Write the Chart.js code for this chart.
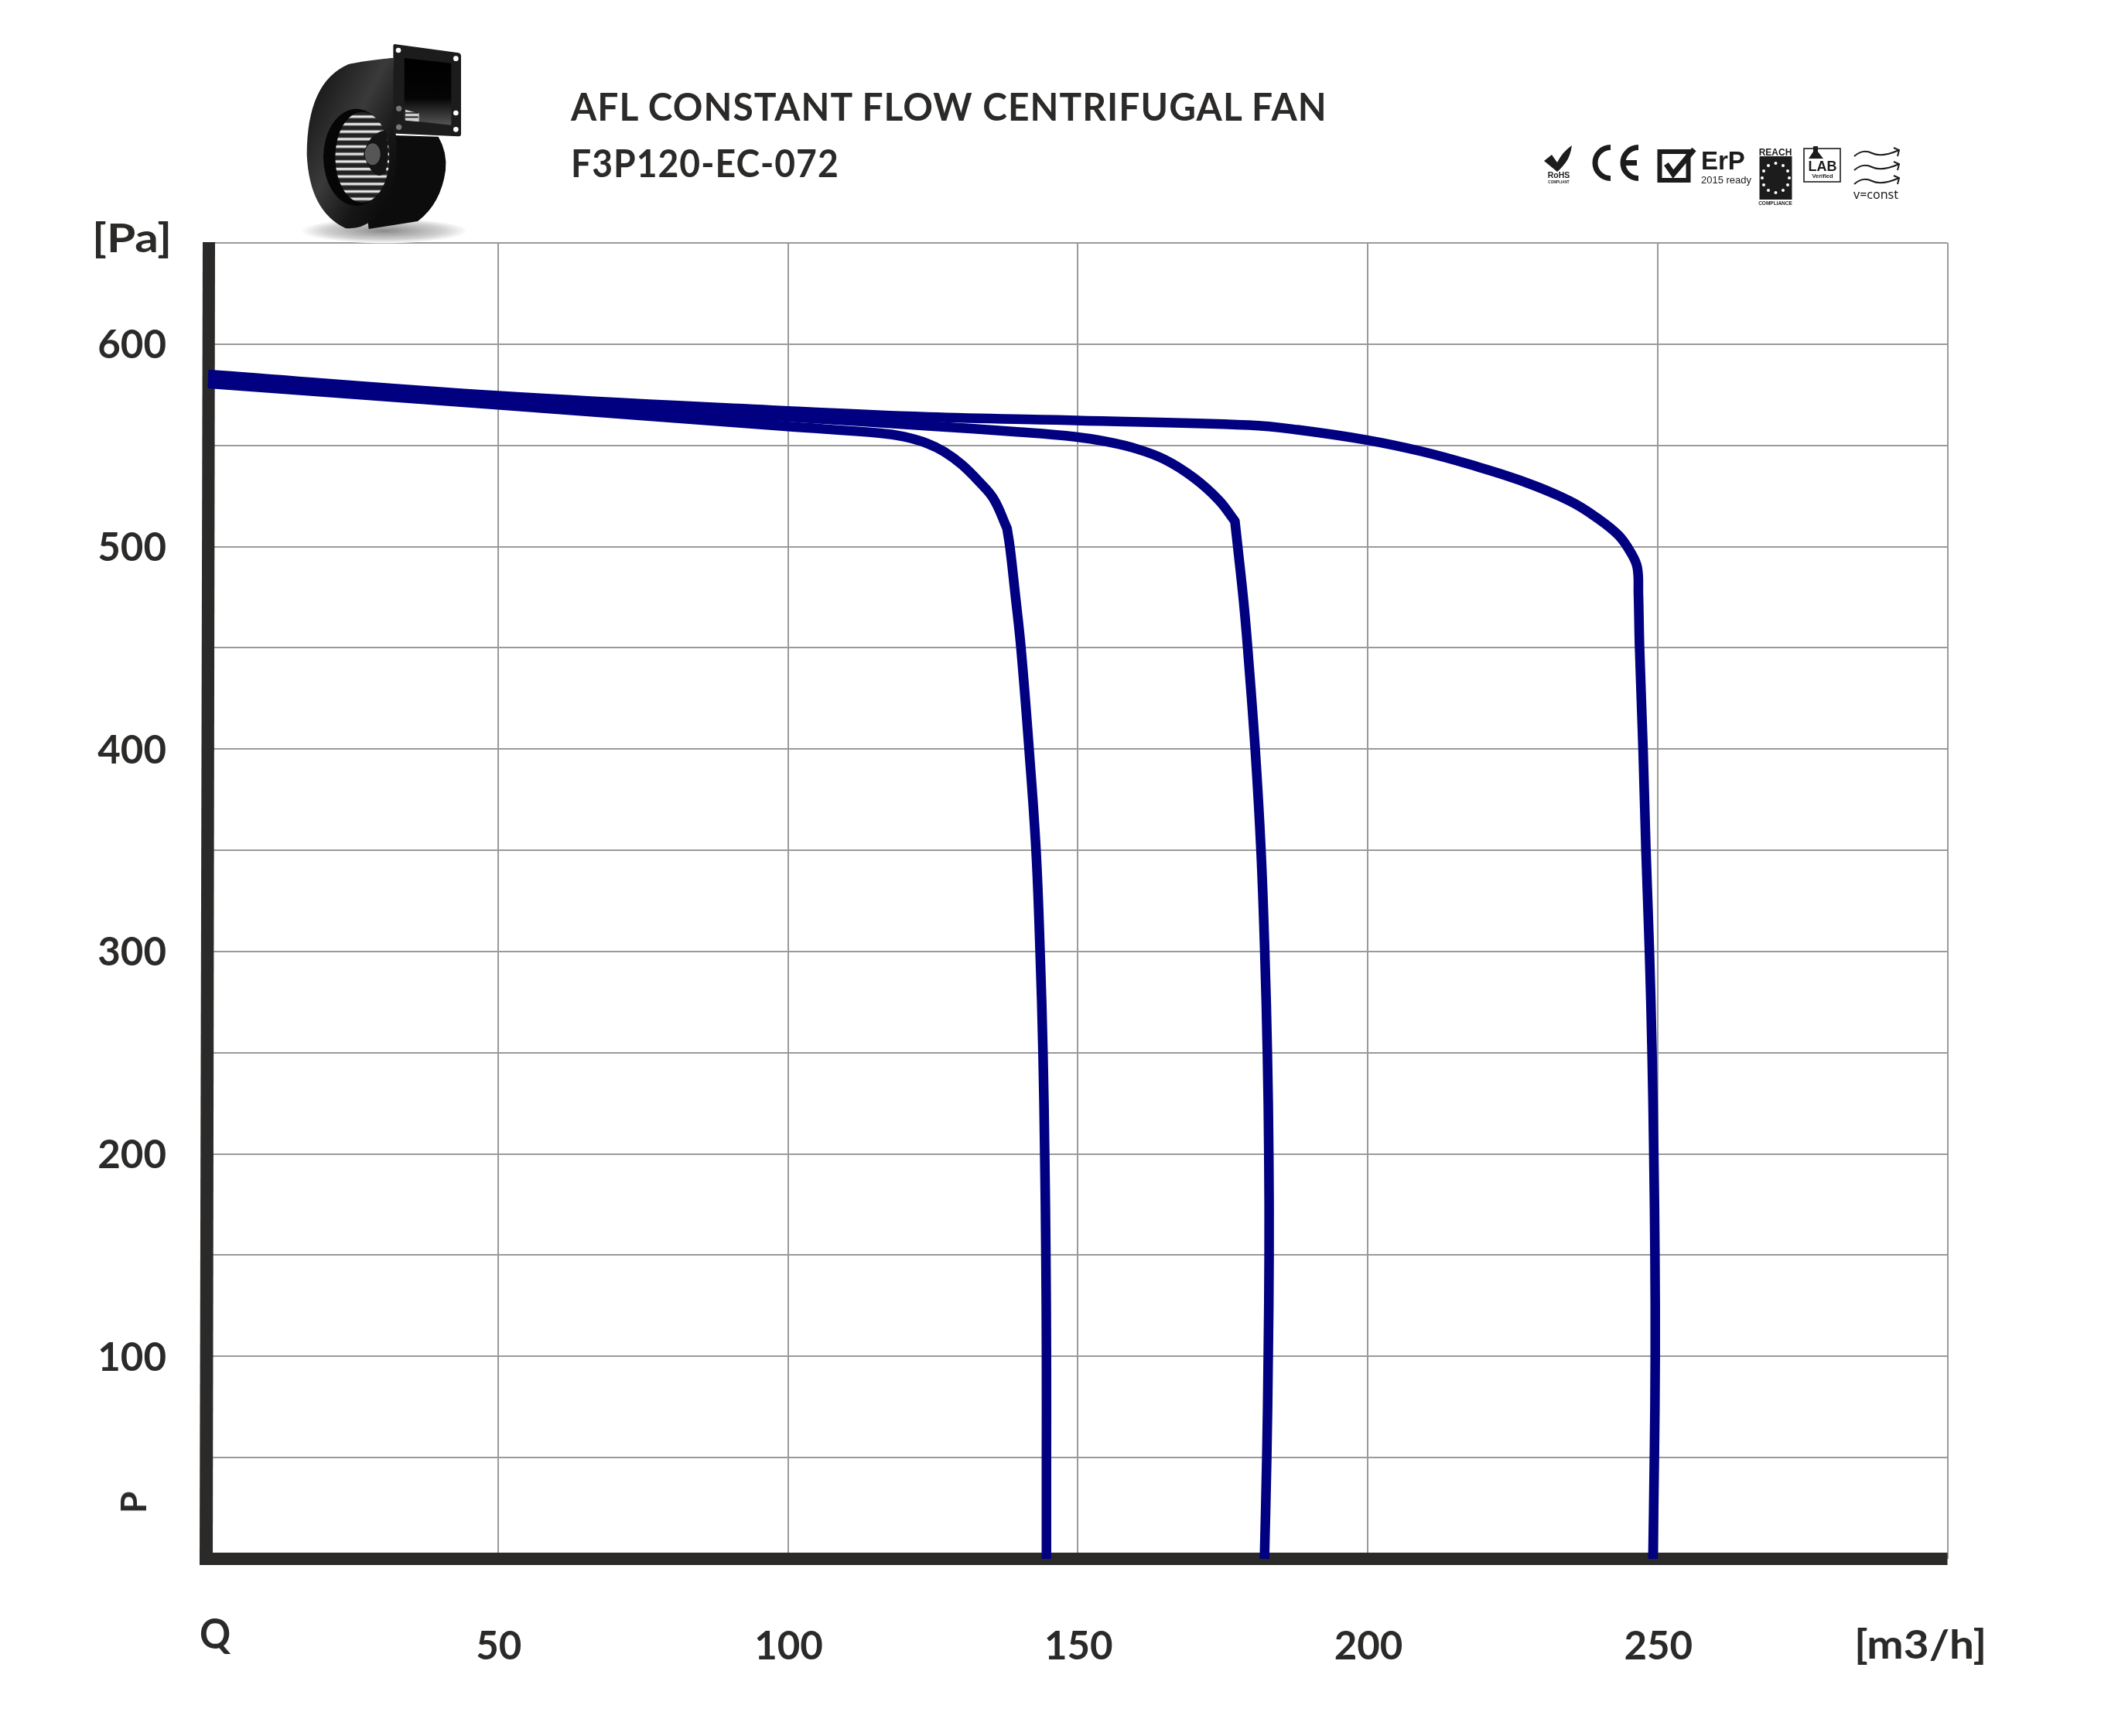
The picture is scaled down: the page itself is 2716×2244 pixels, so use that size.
<!DOCTYPE html>
<html>
<head>
<meta charset="utf-8">
<title>F3P120-EC-072</title>
<script src="https://cdn.jsdelivr.net/npm/chart.js@4/dist/chart.umd.min.js"></script>
<style>
  html, body { margin: 0; padding: 0; background: #fff; }
  #page { position: relative; width: 2716px; height: 2244px; overflow: hidden; font-family: Lato, sans-serif; color: #2b2a29; }
  #page canvas { position: absolute; left: 0; top: 0; }
  .txt { position: absolute; white-space: nowrap; line-height: 1; font-weight: 700; transform-origin: left top; }
  svg { position: absolute; overflow: visible; }
</style>
</head>
<body>
<div id="page">
  <canvas id="fanChart" width="2716" height="2244"></canvas>

  <div class="txt" style="left:738px;top:112px;font-size:50px;letter-spacing:1.1px;transform:scaleX(0.958);">AFL CONSTANT FLOW CENTRIFUGAL FAN</div>
  <div class="txt" style="left:738px;top:185px;font-size:50px;letter-spacing:1.1px;transform:scaleX(0.925);">F3P120-EC-072</div>
  <div class="txt" style="left:119px;top:280px;font-size:52px;transform:scaleX(1.16);">[Pa]</div>
  <div class="txt" style="left:2397px;top:2098px;font-size:52px;transform:scaleX(1.09);">[m3/h]</div>
  <div class="txt" style="left:258px;top:2084px;font-size:54px;transform:scaleX(0.92);">Q</div>
  <div class="txt" style="left:172px;top:1942px;font-size:46px;transform-origin:center;transform:translate(-50%,-50%) rotate(-90deg);">P</div>

  <!-- fan photo, redrawn -->
  <svg style="left:370px;top:40px" width="260" height="280" viewBox="0 0 780 840">
    <defs>
      <radialGradient id="shadow"><stop offset="0" stop-color="#8a8a8a"/><stop offset="0.7" stop-color="#d0d0d0"/><stop offset="1" stop-color="#fff"/></radialGradient>
      <linearGradient id="shell" x1="0" y1="0" x2="1" y2="1"><stop offset="0" stop-color="#0a0a0a"/><stop offset="0.45" stop-color="#3a3a3a"/><stop offset="0.7" stop-color="#161616"/><stop offset="1" stop-color="#050505"/></linearGradient>
      <linearGradient id="throat" x1="0" y1="0" x2="0" y2="1"><stop offset="0" stop-color="#000"/><stop offset="0.6" stop-color="#050505"/><stop offset="1" stop-color="#555"/></linearGradient>
      <pattern id="blades" width="30" height="29" patternUnits="userSpaceOnUse"><rect width="30" height="29" fill="#222"/><rect y="8" width="30" height="11" fill="#c8c8c8"/><rect y="12" width="30" height="3" fill="#fff"/></pattern>
    </defs>
    <ellipse cx="380" cy="775" rx="325" ry="48" fill="url(#shadow)"/>
    <path d="M240 130 L415 105 L420 405 L590 410 Q625 470 618 540 Q600 670 510 738 L320 768 Z" fill="#0c0c0c"/>
    <path d="M240 130 Q80 200 80 480 Q90 700 230 765 Q340 775 400 640 Q440 540 425 400 L415 105 Q300 115 240 130 Z" fill="url(#shell)"/>
    <ellipse cx="272" cy="490" rx="128" ry="188" fill="#060606"/>
    <ellipse cx="295" cy="490" rx="105" ry="176" fill="url(#blades)"/>
    <path d="M300 480 Q320 395 385 385 Q405 470 385 550 Q340 590 300 480 Z" fill="#141414"/>
    <ellipse cx="335" cy="478" rx="30" ry="42" fill="#565656"/>
    <path d="M425 52 L668 85 Q678 88 678 98 L678 400 Q678 410 668 409 L428 398 Q416 398 416 388 L415 60 Q415 48 425 52 Z" fill="#1c1c1c"/>
    <path d="M458 105 L640 125 L640 365 L458 345 Z" fill="url(#throat)"/>
    <path d="M462 305 L515 320 L515 352 L462 347 Z" fill="#cfcfcf"/>
    <path d="M462 318 H510 M462 334 H512" stroke="#111" stroke-width="5"/>
    <g fill="#fff"><circle cx="435" cy="75" r="10"/><circle cx="658" cy="107" r="10"/><circle cx="658" cy="318" r="10"/><circle cx="658" cy="382" r="10"/></g>
    <g fill="#777"><circle cx="437" cy="301" r="11"/><circle cx="437" cy="373" r="11"/></g>
  </svg>

  <!-- certification marks, redrawn -->
  <svg style="left:1950px;top:150px" width="600" height="200" viewBox="0 0 600 200" fill="#1c1c1c">
    <path d="M46 58 L56 50 L63 60 Q70 46 82 38 Q80 52 74 60 Q68 68 63 72 Z"/>
    <text x="65" y="80" text-anchor="middle" font-family="Liberation Sans" font-weight="700" font-size="10.5">RoHS</text>
    <text x="65" y="87" text-anchor="middle" font-family="Liberation Sans" font-weight="700" font-size="4.6">COMPLIANT</text>
    <path d="M132 40.5 A20 20 0 0 0 132 80.5" fill="none" stroke="#1c1c1c" stroke-width="7"/>
    <path d="M168 40.5 A20 20 0 0 0 168 80.5 M147 60.5 H166" fill="none" stroke="#1c1c1c" stroke-width="7"/>
    <rect x="195.5" y="46" width="37" height="37" fill="none" stroke="#1c1c1c" stroke-width="6"/>
    <path d="M204 62 L213 75 L240 43" fill="none" stroke="#1c1c1c" stroke-width="7"/>
    <text x="249" y="69" font-family="Liberation Sans Narrow, Liberation Sans" font-weight="700" font-size="33">ErP</text>
    <text x="249" y="87" font-family="Liberation Sans Narrow, Liberation Sans" font-size="13">2015 ready</text>
    <text x="345" y="51" text-anchor="middle" font-family="Liberation Sans Narrow, Liberation Sans" font-weight="700" font-size="12">REACH</text>
    <rect x="324.5" y="52" width="42" height="56"/>
    <g fill="#fff"><circle cx="345.5" cy="61" r="2"/><circle cx="355" cy="64" r="2"/><circle cx="361" cy="71" r="2"/><circle cx="363" cy="80" r="2"/><circle cx="361" cy="89" r="2"/><circle cx="355" cy="96" r="2"/><circle cx="345.5" cy="99" r="2"/><circle cx="336" cy="96" r="2"/><circle cx="330" cy="89" r="2"/><circle cx="328" cy="80" r="2"/><circle cx="330" cy="71" r="2"/><circle cx="336" cy="64" r="2"/></g>
    <text x="345" y="115" text-anchor="middle" font-family="Liberation Sans Narrow, Liberation Sans" font-weight="700" font-size="6.5">COMPLIANCE</text>
    <rect x="382" y="42" width="47" height="43" fill="#fff" stroke="#1c1c1c" stroke-width="1.6"/>
    <path d="M394 39 H400 V46 L407 55 H388 L394 46 Z"/>
    <text x="406" y="71" text-anchor="middle" font-family="Liberation Sans" font-weight="700" font-size="18">LAB</text>
    <text x="406" y="80" text-anchor="middle" font-family="Liberation Sans" font-weight="700" font-size="7.5">Verified</text>
    <g fill="none" stroke="#1c1c1c" stroke-width="2">
      <path d="M447 52 Q458 42 470 48 T505 44 M498 41 L505 44 L503 52"/>
      <path d="M447 70 Q458 60 470 66 T505 62 M498 59 L505 62 L503 70"/>
      <path d="M447 88 Q458 78 470 84 T505 80 M498 77 L505 80 L503 88"/>
    </g>
    <text x="446" y="107" font-family="Noto Sans" font-size="16">v=const</text>
  </svg>
</div>

<script>
const gridColor = "#9a9a9a";
const inkColor = "#2b2a29";
const curveColor = "#000080";

// Q [m3/h], P [Pa]
const qTicks = [50, 100, 150, 200, 250];
const pTicks = [100, 200, 300, 400, 500, 600];

// the kink on the low and mid curves is listed twice so the spline keeps the corner
const lowQ = [0, 50, 100, 116, 120, 124, 127, 130, 133, 135.5, 137.8, 137.8, 138.3, 139.2, 140.2, 141.6, 142.8, 143.5, 144, 144.3, 144.5, 144.6, 144.6, 144.6];
const lowP = [580.5, 570, 559.3, 556, 554.3, 551, 546.8, 540.5, 532, 523.5, 509, 509, 499.7, 476.8, 450, 400, 350, 300, 250, 200, 150, 100, 50, 0];

const midQ = [0, 50, 100, 124.2, 140, 149.7, 155, 160, 165, 170, 174.3, 177.1, 177.1, 177.6, 178.6, 179.3, 180.6, 181.6, 182.25, 182.7, 182.95, 183, 182.85, 182.6, 182.2];
const midP = [581.5, 571.5, 564, 559.6, 556.6, 554.2, 551.8, 548.4, 543, 534, 523, 512.6, 512.6, 499.7, 473, 450, 400, 350, 300, 250, 200, 150, 100, 50, 0];

const highQ = [0, 50, 100, 124.2, 149.7, 179.5, 187.9, 199.9, 209.3, 217.7, 226.2, 234.8, 239.8, 243.3, 245.4, 246.5, 246.7, 246.9, 247.5, 248, 248.6, 249.05, 249.35, 249.55, 249.6, 249.45, 249.2];
const highP = [585, 574.5, 567, 564, 562.3, 560, 557.7, 552.6, 547, 540.5, 532.8, 522.6, 513.7, 505.5, 497, 489.7, 476.7, 450, 400, 350, 300, 250, 200, 150, 100, 50, 0];

function toPoints(qs, ps) {
  return qs.map((q, i) => ({ x: q, y: ps[i] }));
}

function curve(label, qs, ps) {
  return {
    label,
    data: toPoints(qs, ps),
    showLine: true,
    borderColor: curveColor,
    borderWidth: 12.5,
    borderCapStyle: "butt",
    borderJoinStyle: "round",
    pointRadius: 0,
    tension: 0.4,
    clip: 20
  };
}

// heavy axis bars sit slightly skewed in the original drawing
const axisBars = {
  id: "axisBars",
  beforeDatasetsDraw(chart) {
    const { ctx, scales: { x, y } } = chart;
    const x0 = x.getPixelForValue(0);
    const y0 = y.getPixelForValue(0);
    const top = y.getPixelForValue(650);
    const right = x.getPixelForValue(300);
    ctx.save();
    ctx.fillStyle = inkColor;
    ctx.beginPath();
    ctx.moveTo(x0 - 7, top - 1);
    ctx.lineTo(x0 + 9, top - 1);
    ctx.lineTo(x0 + 6, y0);
    ctx.lineTo(x0 - 11, y0);
    ctx.closePath();
    ctx.fill();
    ctx.fillRect(x0 - 11, y0 - 8, right - x0 + 11, 16);
    ctx.restore();
  }
};

new Chart(document.getElementById("fanChart"), {
  type: "scatter",
  data: {
    datasets: [
      curve("low", lowQ, lowP),
      curve("mid", midQ, midP),
      curve("high", highQ, highP)
    ]
  },
  plugins: [axisBars],
  options: {
    responsive: false,
    devicePixelRatio: 1,
    animation: false,
    layout: { padding: { top: 314, right: 198.5, left: 0, bottom: 0 } },
    plugins: { legend: { display: false }, tooltip: { enabled: false } },
    scales: {
      x: {
        type: "linear",
        min: 0,
        max: 300,
        afterFit(scale) { scale.height = 229; },
        border: { display: false },
        grid: { color: gridColor, lineWidth: 2, drawTicks: false },
        ticks: {
          stepSize: 50,
          autoSkip: false,
          maxRotation: 0,
          padding: 83,
          labelOffset: 1,
          color: inkColor,
          font: { family: "Lato", size: 51, weight: "700" },
          callback: (v) => (qTicks.includes(v) ? String(v) : "")
        }
      },
      y: {
        type: "linear",
        min: 0,
        max: 650,
        afterFit(scale) { scale.width = 269; },
        border: { display: false },
        grid: { color: gridColor, lineWidth: 2, drawTicks: false },
        ticks: {
          stepSize: 50,
          autoSkip: false,
          padding: 54,
          labelOffset: 2,
          crossAlign: "center",
          color: inkColor,
          font: { family: "Lato", size: 51, weight: "700" },
          callback: (v) => (pTicks.includes(v) ? String(v) : "")
        }
      }
    }
  }
});
</script>
</body>
</html>
